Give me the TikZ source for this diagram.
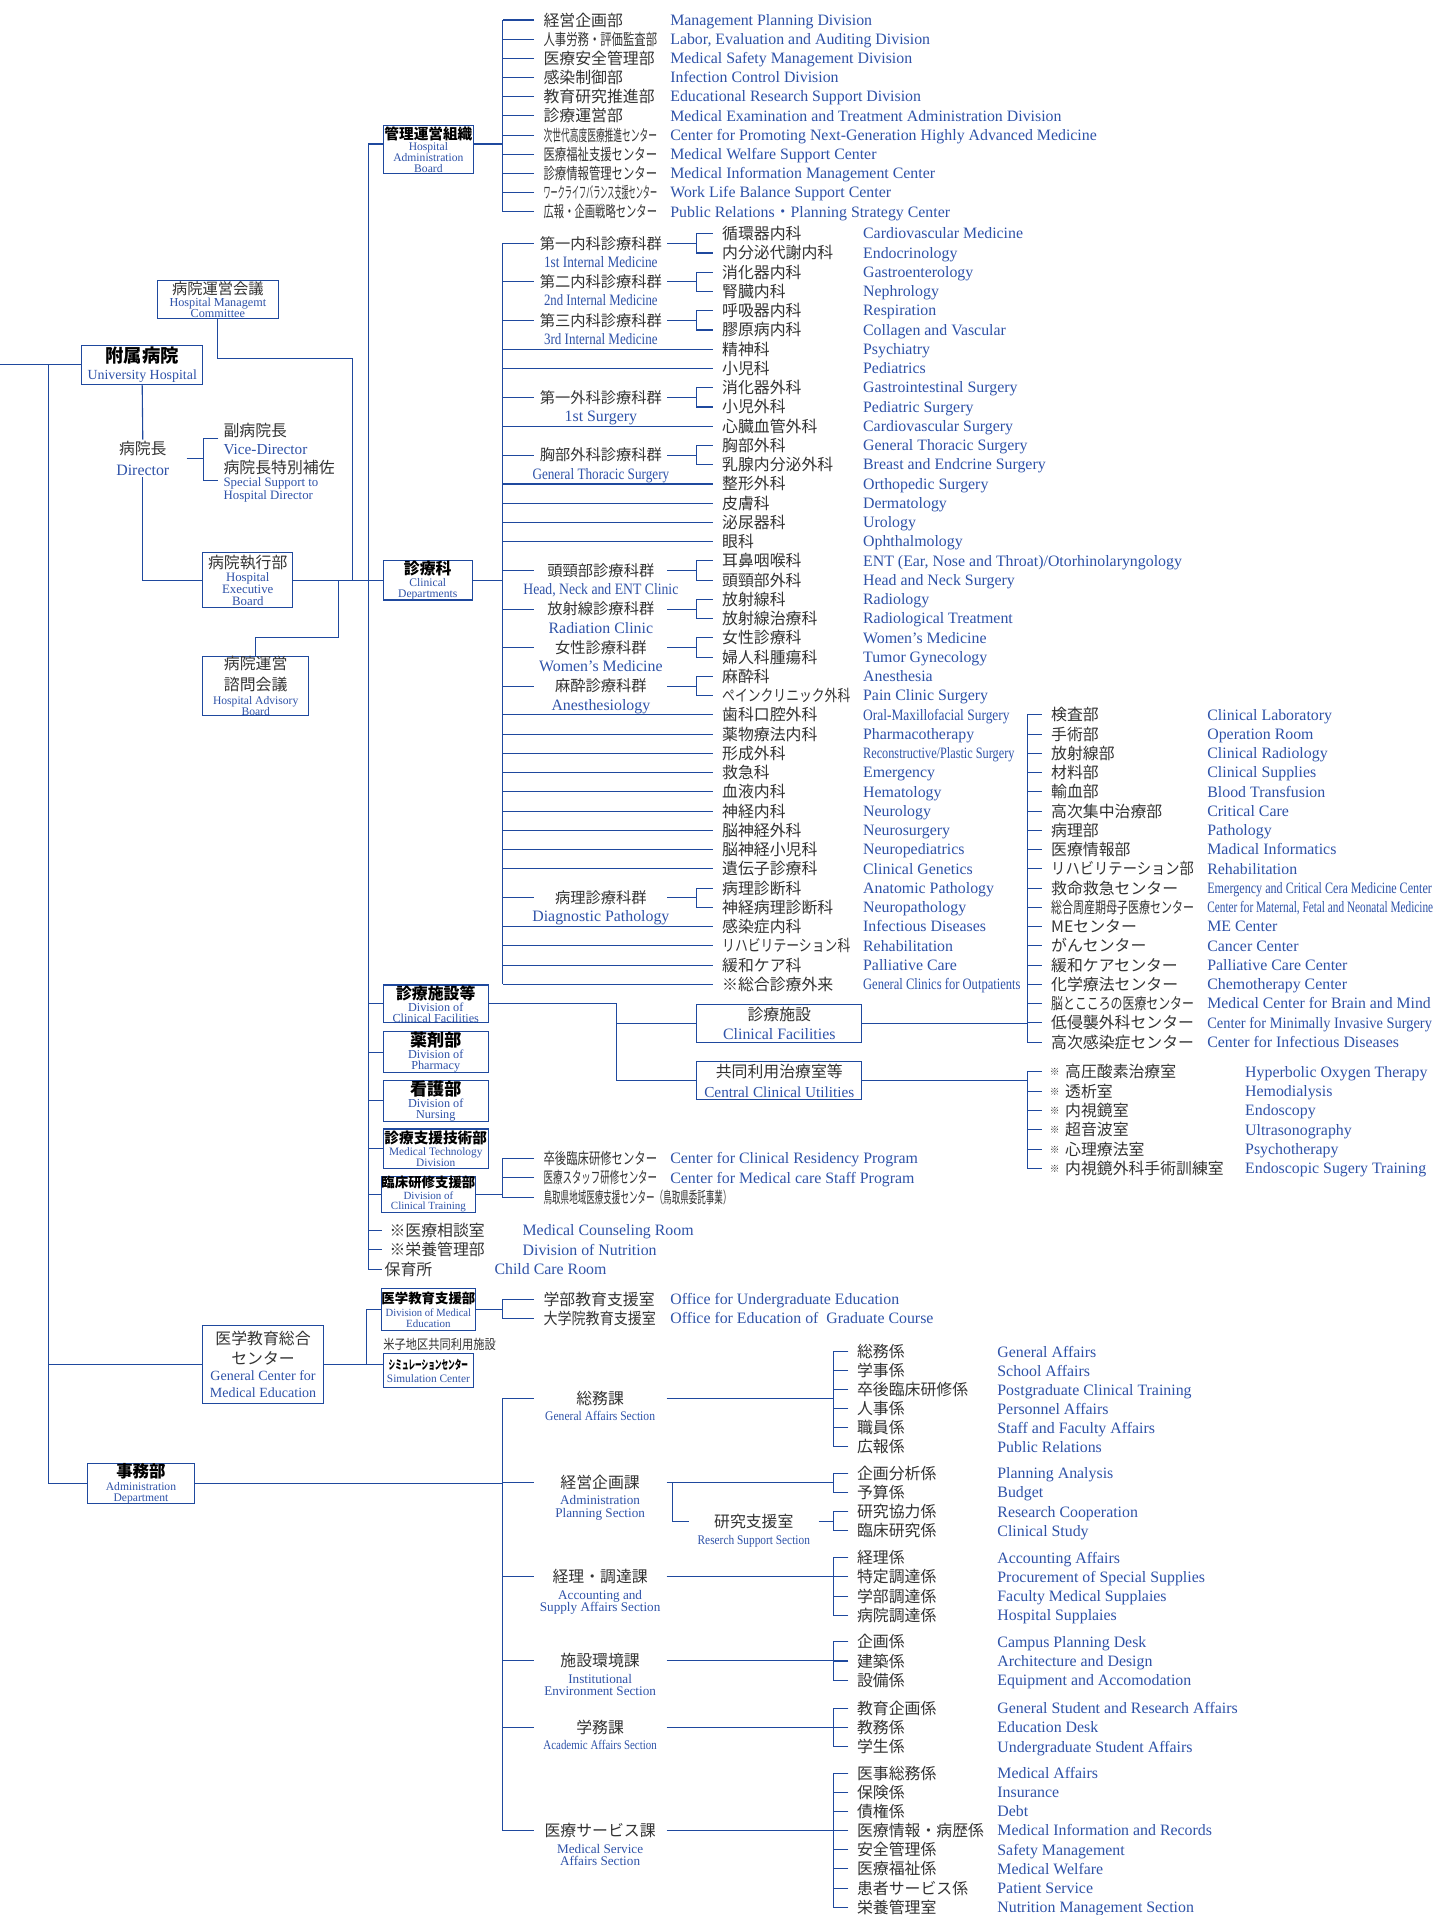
\documentclass[tikz,border=0pt]{standalone}
\usepackage{fontspec}
\setmainfont{Liberation Serif}
\newfontfamily\jpf{Noto Sans CJK JP}
\usepackage{tikz}
\usetikzlibrary{calc,positioning}

\definecolor{lnb}{RGB}{31,73,158}
\definecolor{enb}{RGB}{46,82,168}
\definecolor{jpg}{RGB}{51,51,51}

\lineskiplimit=-100pt
\newcommand\fitw[2]{\resizebox{#1}{\height}{#2}}
\newcommand\bt[2]{{\jpf\bfseries\fontsize{#1}{#1}\selectfont\color{black}#2}}
\newcommand\jt[2]{{\jpf\fontsize{#1}{#1}\selectfont\color{jpg}#2}}

\tikzset{
  ln/.style={draw=lnb, line width=0.9pt},
  jpi/.style={anchor=west, inner xsep=7.5pt, inner ysep=0pt, text=jpg,
    font=\jpf\fontsize{13}{15}\selectfont, text height=11.4pt, text depth=1.6pt},
  eni/.style={anchor=west, inner sep=0pt, text=enb,
    font=\fontsize{13}{15}\selectfont, text height=9.1pt, text depth=0.5pt},
  grp/.style={inner sep=0pt, minimum width=108.6pt, text=jpg,
    font=\jpf\fontsize{12.5}{15}\selectfont, text height=11pt, text depth=1.5pt},
  glab/.style={inner sep=0pt, text=enb, font=\fontsize{13}{15}\selectfont,
    text height=9.1pt, text depth=0.5pt},
  slab/.style={inner sep=0pt, text=enb, align=center, font=\fontsize{10.8}{10.3}\selectfont},
  ubox/.style={draw=lnb, line width=0.9pt, fill=white, inner sep=0pt, align=center, text=enb},
}

\begin{document}
\begin{tikzpicture}[x=1pt,y=-1pt]
\useasboundingbox (0,0) rectangle (1175,1569);

\node[ubox, minimum width=99pt, minimum height=32pt, font=\fontsize{11.4}{13}\selectfont] (hosp) at (116.5,299) {\bt{15}{附属病院}\\[1pt]University Hospital};
\node[ubox, minimum width=99pt, minimum height=31pt, font=\fontsize{10}{9}\selectfont] (hmc) at (178.5,245.5) {\jt{12.5}{病院運営会議}\\[1.5pt]Hospital Managemt\\Committee};
\node[align=center, inner xsep=14pt, inner ysep=1pt, text=enb, font=\fontsize{13}{17}\selectfont] (dir) at (117,375.5) {\jt{13}{病院長}\\Director};
\node[anchor=west, align=left, inner xsep=4pt, inner ysep=0pt, text=enb, font=\fontsize{12.5}{15}\selectfont] (vdir) at (179,359.5) {\jt{13}{副病院長}\\Vice-Director};
\node[anchor=west, align=left, inner xsep=4pt, inner ysep=0pt, text=enb, font=\fontsize{10.5}{10}\selectfont] (ssup) at (179,394) {\jt{13}{病院長特別補佐}\\[1pt]Special Support to\\Hospital Director};
\node[ubox, minimum width=74pt, minimum height=45pt, font=\fontsize{10.5}{10}\selectfont] (exe) at (203,475.5) {\jt{13}{病院執行部}\\[1pt]Hospital\\Executive\\Board};
\node[ubox, minimum width=87pt, minimum height=48pt, font=\fontsize{9.5}{9}\selectfont] (adv) at (209.5,562) {\jt{13}{病院運営}\\[8pt]\jt{13}{諮問会議}\\[2pt]Hospital Advisory\\Board};
\node[ubox, minimum width=99pt, minimum height=64pt, font=\fontsize{11.5}{14}\selectfont] (mec) at (215.5,1118) {\jt{13}{医学教育総合}\\[2pt]\jt{13}{センター}\\[-1pt]General Center for\\Medical Education};
\node[ubox, minimum width=87pt, minimum height=31pt, font=\fontsize{9.5}{8.8}\selectfont] (adm) at (115.5,1215.5) {\bt{13.5}{事務部}\\[2pt]Administration\\Department};

\node[ubox, minimum width=74pt, minimum height=39pt, font=\fontsize{9.5}{9}\selectfont] (hadm) at (351,122.5) {\bt{12}{管理運営組織}\\[0.5pt]Hospital\\Administration\\Board};
\node[ubox, minimum width=73pt, minimum height=32pt, font=\fontsize{9.5}{8.8}\selectfont] (cd) at (350.5,475.5) {\bt{13}{診療科}\\[1.5pt]Clinical\\Departments};
\node[ubox, minimum width=86pt, minimum height=31pt, font=\fontsize{10}{9}\selectfont] (dcf) at (357,822.5) {\bt{13}{診療施設等}\\[1pt]Division of\\Clinical Facilities};
\node[ubox, minimum width=86pt, minimum height=32pt, font=\fontsize{10}{9}\selectfont] (pha) at (357,862) {\bt{14}{薬剤部}\\[1pt]Division of\\Pharmacy};
\node[ubox, minimum width=86pt, minimum height=30pt, font=\fontsize{10}{9}\selectfont] (nur) at (357,902) {\bt{14}{看護部}\\[1pt]Division of\\Nursing};
\node[ubox, minimum width=86pt, minimum height=32pt, font=\fontsize{9.3}{8.8}\selectfont] (mtd) at (357,941) {\bt{12}{診療支援技術部}\\[1.5pt]Medical Technology\\Division};
\node[ubox, minimum width=74pt, minimum height=29pt, font=\fontsize{9}{8.5}\selectfont] (dct) at (351,978.5) {\bt{11}{臨床研修支援部}\\[1pt]Division of\\Clinical Training};
\node[ubox, minimum width=74pt, minimum height=34pt, font=\fontsize{9}{8.6}\selectfont] (dme) at (351,1073) {\bt{11}{医学教育支援部}\\[2pt]\fitw{70pt}{Division of Medical}\\Education};
\node[ubox, minimum width=74pt, minimum height=28pt, font=\fontsize{9.3}{11}\selectfont] (sim) at (351,1123) {\bt{10}{\fitw{65pt}{シミュレーションセンター}}\\Simulation Center};
\node[anchor=west, inner sep=0pt, text=jpg, font=\jpf\fontsize{11}{12}\selectfont] (ync) at (314,1101.5) {\fitw{92pt}{米子地区共同利用施設}};
\node[ubox, minimum width=135pt, minimum height=31pt, font=\fontsize{13}{15}\selectfont] (cfac) at (638.5,838.5) {\jt{13}{診療施設}\\Clinical Facilities};
\node[ubox, minimum width=135pt, minimum height=31pt, font=\fontsize{12.5}{16}\selectfont] (ccu) at (638.5,885.5) {\jt{13}{共同利用治療室等}\\Central Clinical Utilities};

\coordinate (edge) at (0,299);
\coordinate (lb) at (40,299);
\draw[ln] (edge) -- (hosp.west);
\draw[ln] (lb) |- (adm.west);
\draw[ln] (lb |- mec.west) -- (mec.west);
\draw[ln] (hosp.south) -- (dir.north);
\draw[ln] (dir.south) |- (exe.west);
\draw[ln] (dir.east) -- ([xshift=-12pt]vdir.west |- dir.east);
\draw[ln] (vdir.west) -- ++(-12,0) |- (ssup.west);
\draw[ln] (exe.east) -- (cd.west);
\coordinate (hmcj) at (289,294);
\draw[ln] (hmc.south) |- (hmcj) -- (hmcj |- cd.west);
\draw[ln] (adv.north) -- ++(0,-15.5) -| ($(exe.east)!0.5!(cd.west)$);

\node[jpi, inner xsep=6pt] (mr1) at (313,1008) {※医療相談室};
\node[eni] (mre1) at (428,1008) {Medical Counseling Room};
\node[jpi, inner xsep=6pt] (mr2) at (313,1024) {※栄養管理部};
\node[eni] (mre2) at (428,1024) {Division of Nutrition};
\node[jpi, inner xsep=2pt] (mr3) at (313,1040) {保育所};
\node[eni] (mre3) at (405,1040) {Child Care Room};

\coordinate (hw) at ([yshift=4.5pt]hadm.west);
\coordinate (mb) at ([xshift=-12pt]hw);
\draw[ln] (hw) -- (mb) |- (mr3.west);
\foreach \n in {cd,dcf,pha,nur,mtd,dct,mr1,mr2}
  \draw[ln] (mb |- \n.west) -- (\n.west);

\foreach \j/\e [count=\i] in {
 経営企画部/Management Planning Division,
 \fitw{93pt}{人事労務・評価監査部}/{Labor, Evaluation and Auditing Division},
 医療安全管理部/Medical Safety Management Division,
 感染制御部/Infection Control Division,
 教育研究推進部/Educational Research Support Division,
 診療運営部/Medical Examination and Treatment Administration Division,
 \fitw{93pt}{次世代高度医療推進センター}/Center for Promoting Next-Generation Highly Advanced Medicine,
 \fitw{93pt}{医療福祉支援センター}/Medical Welfare Support Center,
 \fitw{93pt}{診療情報管理センター}/Medical Information Management Center,
 \fitw{93pt}{ワークライフバランス支援センター}/Work Life Balance Support Center,
 \fitw{93pt}{広報・企画戦略センター}/Public Relations{\jpf ・}Planning Strategy Center}
{
 \node[jpi] (m\i) at (437.7,{16.4+(\i-1)*15.71}) {\j};
 \node[eni] (me\i) at (549,{16.4+(\i-1)*15.71}) {\e};
 \draw[ln] (m\i.west) -- ++(-25.7,0);
}
\coordinate (hq) at ([yshift=4.5pt]hadm.east);
\coordinate (mgb) at ([xshift=-25.7pt]m1.west);
\draw[ln] (mgb) -- (mgb |- m11.west);
\draw[ln] (hq) -- (mgb |- hq);

\foreach \j/\e [count=\i] in {
 循環器内科/Cardiovascular Medicine,
 内分泌代謝内科/Endocrinology,
 消化器内科/Gastroenterology,
 腎臓内科/Nephrology,
 呼吸器内科/Respiration,
 膠原病内科/Collagen and Vascular,
 精神科/Psychiatry,
 小児科/Pediatrics,
 消化器外科/Gastrointestinal Surgery,
 小児外科/Pediatric Surgery,
 心臓血管外科/Cardiovascular Surgery,
 胸部外科/General Thoracic Surgery,
 乳腺内分泌外科/Breast and Endcrine Surgery,
 整形外科/Orthopedic Surgery,
 皮膚科/Dermatology,
 泌尿器科/Urology,
 眼科/Ophthalmology,
 耳鼻咽喉科/{ENT (Ear, Nose and Throat)/Otorhinolaryngology},
 頭頸部外科/Head and Neck Surgery,
 放射線科/Radiology,
 放射線治療科/Radiological Treatment,
 女性診療科/Women's Medicine,
 婦人科腫瘍科/Tumor Gynecology,
 麻酔科/Anesthesia,
 \fitw{105pt}{ペインクリニック外科}/Pain Clinic Surgery,
 歯科口腔外科/\fitw{120pt}{Oral-Maxillofacial Surgery},
 薬物療法内科/Pharmacotherapy,
 形成外科/\fitw{124pt}{Reconstructive/Plastic Surgery},
 救急科/Emergency,
 血液内科/Hematology,
 神経内科/Neurology,
 脳神経外科/Neurosurgery,
 脳神経小児科/Neuropediatrics,
 遺伝子診療科/Clinical Genetics,
 病理診断科/Anatomic Pathology,
 神経病理診断科/Neuropathology,
 感染症内科/Infectious Diseases,
 \fitw{105pt}{リハビリテーション科}/Rehabilitation,
 緩和ケア科/Palliative Care,
 ※総合診療外来/\fitw{129pt}{General Clinics for Outpatients}}
{
 \node[jpi] (c\i) at (584,{191.5+(\i-1)*15.77}) {\j};
 \node[eni] (ce\i) at (707,{191.5+(\i-1)*15.77}) {\e};
}
\coordinate (cb) at (412,0);
\foreach \r/\gj/\ge in {
 1/第一内科診療科群/{\fitw{93pt}{1st Internal Medicine}},
 3/第二内科診療科群/{\fitw{93pt}{2nd Internal Medicine}},
 5/第三内科診療科群/{\fitw{93pt}{3rd Internal Medicine}},
 9/第一外科診療科群/1st Surgery,
 12/胸部外科診療科群/{\fitw{112pt}{General Thoracic Surgery}},
 18/頭頸部診療科群/{\fitw{127pt}{Head, Neck and ENT Clinic}},
 20/放射線診療科群/Radiation Clinic,
 22/女性診療科群/Women's Medicine,
 24/麻酔診療科群/Anesthesiology,
 35/病理診療科群/Diagnostic Pathology}
{
 \pgfmathtruncatemacro\s{\r+1}
 \node[grp] (g\r) at (492.3,{191.5+(\r-0.5)*15.77}) {\gj};
 \node[glab, below=4pt of g\r] (gl\r) {\ge};
 \draw[ln] (cb |- g\r.west) -- (g\r.west);
 \draw[ln] (g\r.east) -- ([xshift=-13pt]c\r.west |- g\r.east);
 \draw[ln] (c\r.west) -- ++(-13,0) |- (c\s.west);
}
\draw[ln] (cb |- g1.west) -- (cb |- c40.west);
\foreach \i in {7,8,11,14,15,16,17,26,27,28,29,30,31,32,33,34,37,38,39,40}
  \draw[ln] (cb |- c\i.west) -- (c\i.west);
\draw[ln] (cd.east) -- (cb |- cd.east);

\foreach \j/\e [count=\i] in {
 検査部/Clinical Laboratory,
 手術部/Operation Room,
 放射線部/Clinical Radiology,
 材料部/Clinical Supplies,
 輸血部/Blood Transfusion,
 高次集中治療部/Critical Care,
 病理部/Pathology,
 医療情報部/Madical Informatics,
 \fitw{117pt}{リハビリテーション部}/Rehabilitation,
 救命救急センター/\fitw{184pt}{Emergency and Critical Cera Medicine Center},
 \fitw{117pt}{総合周産期母子医療センター}/\fitw{185pt}{Center for Maternal, Fetal and Neonatal Medicine},
 MEセンター/ME Center,
 がんセンター/Cancer Center,
 緩和ケアセンター/Palliative Care Center,
 化学療法センター/Chemotherapy Center,
 \fitw{117pt}{脳とこころの医療センター}/\fitw{183pt}{Medical Center for Brain and Mind},
 低侵襲外科センター/\fitw{184pt}{Center for Minimally Invasive Surgery},
 高次感染症センター/Center for Infectious Diseases}
{
 \node[jpi] (f\i) at (853.6,{585.75+(\i-1)*15.77}) {\j};
 \node[eni] (fe\i) at (989,{585.75+(\i-1)*15.77}) {\e};
 \draw[ln] (f\i.west) -- ++(-12.1,0);
}
\coordinate (fb) at ([xshift=-12.1pt]f1.west);
\draw[ln] (fb) -- (fb |- f18.west);
\draw[ln] (cfac.east) -- (fb |- cfac.east);

\foreach \j/\e [count=\i] in {
 高圧酸素治療室/Hyperbolic Oxygen Therapy,
 透析室/Hemodialysis,
 内視鏡室/Endoscopy,
 超音波室/Ultrasonography,
 心理療法室/Psychotherapy,
 内視鏡外科手術訓練室/Endoscopic Sugery Training}
{
 \node[jpi, inner xsep=6.4pt] (u\i) at (853.6,{878.1+(\i-1)*15.84}) {\raisebox{1.5pt}{\fontsize{8}{8}\selectfont ※}\hspace{4.5pt}\j};
 \node[eni] (ue\i) at (1020,{878.1+(\i-1)*15.84}) {\e};
 \draw[ln] (u\i.west) -- ++(-12.1,0);
}
\coordinate (ub) at ([xshift=-12.1pt]u1.west);
\draw[ln] (ub) -- (ub |- u6.west);
\draw[ln] (ccu.east) -- (ub |- ccu.east);

\coordinate (fj) at (505,822.5);
\draw[ln] (dcf.east) -- (fj) |- (ccu.west);
\draw[ln] (fj |- cfac.west) -- (cfac.west);

\foreach \j/\e [count=\i] in {
 \fitw{93pt}{卒後臨床研修センター}/Center for Clinical Residency Program,
 \fitw{93pt}{医療スタッフ研修センター}/Center for Medical care Staff Program}
{
 \node[jpi] (t\i) at (437.7,{949+(\i-1)*16}) {\j};
 \node[eni] (te\i) at (549,{949+(\i-1)*16}) {\e};
}
\node[jpi] (t3) at (437.7,981) {\fitw{154pt}{鳥取県地域医療支援センター（鳥取県委託事業）}};
\draw[ln] (t1.west) -- ++(-25.7,0) |- (t3.west);
\draw[ln] (t2.west) -- ++(-25.7,0);
\draw[ln] (dct.east) -- ([xshift=-25.7pt]t1.west |- dct.east);

\node[jpi] (de1) at (437.7,1064.5) {学部教育支援室};
\node[eni] (dee1) at (549,1064.5) {Office for Undergraduate Education};
\node[jpi] (de2) at (437.7,1080) {\fitw{92pt}{大学院教育支援室}};
\node[eni] (dee2) at (549,1080) {Office for Education of\ \ Graduate Course};
\draw[ln] (de1.west) -- ++(-25.7,0) |- (de2.west);
\draw[ln] (dme.east) -- ([xshift=-25.7pt]de1.west |- dme.east);
\draw[ln] (mec.east) -- (mec.east -| sim.west);
\draw[ln] (dme.west) -- ++(-12,0) |- (mec.east);

\coordinate (ab) at (412,1145.8);
\foreach \n/\y/\sj/\se in {
 s1/1145.8/総務課/{\fitw{90pt}{General Affairs Section}},
 s2/1214.9/経営企画課/{Administration\\Planning Section},
 s3/1292/経理・調達課/{Accounting and\\Supply Affairs Section},
 s4/1360.8/施設環境課/{Institutional\\Environment Section},
 s5/1415.4/学務課/{\fitw{93pt}{Academic Affairs Section}},
 s6/1500.1/医療サービス課/{Medical Service\\Affairs Section}}
{
 \node[grp, font=\jpf\fontsize{13}{15}\selectfont] (\n) at (491.7,\y) {\sj};
 \node[slab, below=4pt of \n] (\n-l) {\se};
 \draw[ln] (ab |- \n.west) -- (\n.west);
}
\draw[ln] (ab |- s1.west) -- (ab |- s6.west);
\draw[ln] (adm.east) -- (ab |- adm.east);
\node[grp, minimum width=106pt, font=\jpf\fontsize{13}{15}\selectfont] (rs) at (617.6,1246.9) {研究支援室};
\node[slab, below=4pt of rs] (rs-l) {\fitw{92pt}{Reserch Support Section}};
\draw[ln] ([xshift=5pt]s2.east) |- (rs.west);

\foreach \j/\e/\y [count=\i] in {
 総務係/General Affairs/1107.6,
 学事係/School Affairs/1123.2,
 卒後臨床研修係/Postgraduate Clinical Training/1138.7,
 人事係/Personnel Affairs/1154.3,
 職員係/Staff and Faculty Affairs/1169.9,
 広報係/Public Relations/1185.4,
 企画分析係/Planning Analysis/1207.3,
 予算係/Budget/1222.8,
 研究協力係/Research Cooperation/1238.7,
 臨床研究係/Clinical Study/1254.2,
 経理係/Accounting Affairs/1276.3,
 特定調達係/Procurement of Special Supplies/1292,
 学部調達係/Faculty Medical Supplaies/1307.7,
 病院調達係/Hospital Supplaies/1323.4,
 企画係/Campus Planning Desk/1345.2,
 建築係/Architecture and Design/1360.9,
 設備係/Equipment and Accomodation/1376.6,
 教育企画係/General Student and Research Affairs/1399.8,
 教務係/Education Desk/1415.5,
 学生係/Undergraduate Student Affairs/1431.2,
 医事総務係/Medical Affairs/1453,
 保険係/Insurance/1468.6,
 債権係/Debt/1484.3,
 医療情報・病歴係/Medical Information and Records/1499.9,
 安全管理係/Safety Management/1515.6,
 医療福祉係/Medical Welfare/1531.2,
 患者サービス係/Patient Service/1546.9,
 栄養管理室/Nutrition Management Section/1562.5}
{
 \node[jpi, inner xsep=7pt] (a\i) at (695,\y) {\j};
 \node[eni] (ae\i) at (817,\y) {\e};
 \draw[ln] (a\i.west) -- ++(-12,0);
}
\foreach \p/\q in {1/6,7/8,9/10,11/14,15/17,18/20,21/28}
  \draw[ln] (a\p.west) -- ++(-12,0) |- (a\q.west);
\foreach \n/\p in {s1/1,s2/7,s3/11,s4/15,s5/18,s6/21,rs/9}
  \draw[ln] (\n.east) -- ([xshift=-12pt]a\p.west |- \n.east);
\end{tikzpicture}
\end{document}
